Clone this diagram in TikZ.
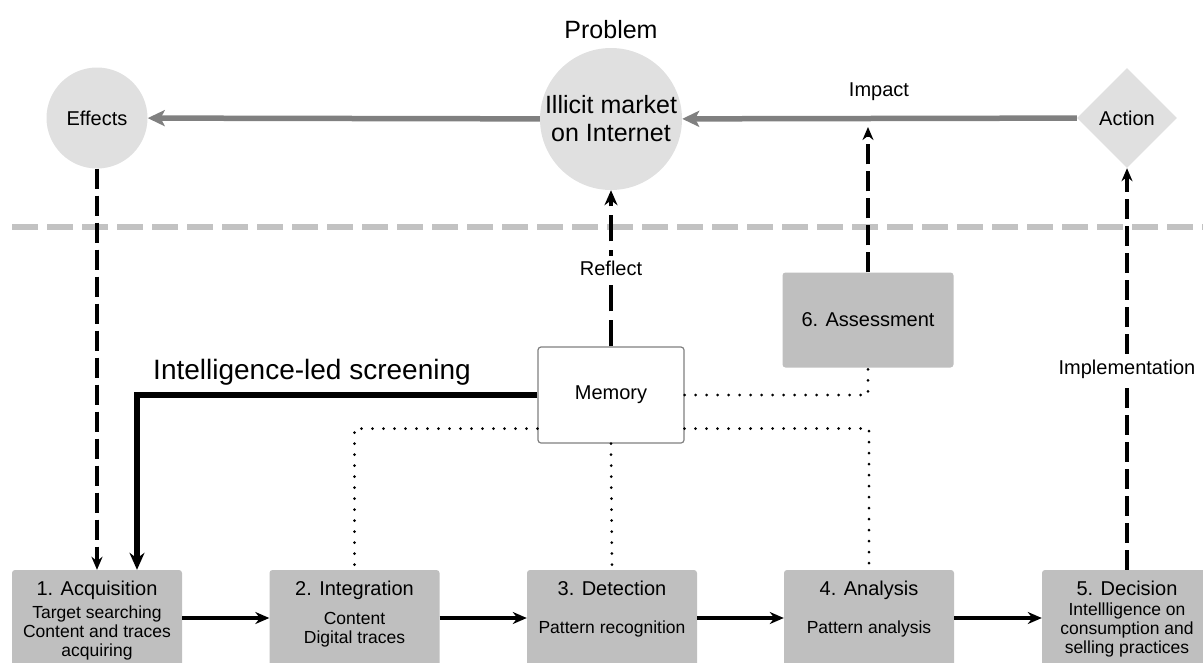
\documentclass[tikz,border=0pt]{standalone}
\usepackage{fontspec}
\setmainfont{Liberation Sans}
\usetikzlibrary{positioning, arrows.meta, calc, shapes.geometric}

\definecolor{boxgray}{gray}{0.75}
\definecolor{discgray}{gray}{0.88}
\definecolor{arrowgray}{gray}{0.5}
\definecolor{sepgray}{gray}{0.76}
\definecolor{memgray}{gray}{0.5}

\begin{document}
\begin{tikzpicture}[
  x=1pt, y=-1pt,
  stage/.style={fill=boxgray, rounded corners=3pt, minimum width=170pt,
                minimum height=96pt, inner sep=0pt},
  ttl/.style={font=\fontsize{20}{24}\selectfont, inner sep=0pt, anchor=base},
  sub/.style={font=\fontsize{17.5}{19}\selectfont, align=center, inner sep=0pt},
  disc/.style={circle, fill=discgray, inner sep=0pt, align=center},
  lbl/.style={font=\fontsize{20}{24}\selectfont},
  flow/.style={-{Stealth[length=14pt, width=12pt]}, line width=3.5pt},
  feed/.style={-{Stealth[length=17pt, width=16pt, inset=4pt]}, line width=5.5pt, arrowgray},
  dashlink/.style={-{Stealth[length=13pt, width=11pt]}, line width=3.2pt,
                   dash pattern=on 20pt off 7pt},
  reflectlink/.style={-{Stealth[length=15pt, width=13pt]}, line width=4.5pt,
                   dash pattern=on 26pt off 9pt},
  screen/.style={-{Stealth[length=17pt, width=15pt]}, line width=6pt},
  dotlink/.style={line width=3pt, dash pattern=on 0pt off 11pt, line cap=round},
  sepline/.style={line width=5.5pt, sepgray, dash pattern=on 26pt off 9pt},
]
\useasboundingbox (0,0) rectangle (1203,662);

% Separator between problem and process
\draw[sepline] (12,227) -- (1203,227);

% Problem level
\node[lbl, font=\fontsize{25}{28}\selectfont] (prob) at (611,30) {Problem};
\node[disc, minimum size=142pt, font=\fontsize{25}{28}\selectfont]
  (market) at (611,119) {Illicit market\\on Internet};
\node[disc, minimum size=101pt, lbl] (effects) at (97,118) {Effects};
\node[diamond, aspect=1, fill=discgray, minimum size=100pt, inner sep=0pt, lbl]
  (action) at (1127,118) {Action};
\node[lbl] (impactL) at (879,92) {Impact};

% Process boxes
\node[stage] (acq)    at (97,618)    {};
\node[stage] (integ)  at (354.5,618) {};
\node[stage] (detect) at (612,618)   {};
\node[stage] (ana)    at (869,618)   {};
\node[stage] (dec)    at (1127,618)  {};

\node[ttl] (acqT)    at (97,595)    {1. Acquisition};
\node[ttl] (integT)  at (354.5,595) {2. Integration};
\node[ttl] (detectT) at (612,595)   {3. Detection};
\node[ttl] (anaT)    at (869,595)   {4. Analysis};
\node[ttl] (decT)    at (1127,595)  {5. Decision};

\node[sub] (acqS)    at (97,633)    {Target searching\\Content and traces\\acquiring};
\node[sub] (integS)  at (354.5,630) {Content\\Digital traces};
\node[sub] (detectS) at (612,629)   {Pattern recognition};
\node[sub] (anaS)    at (869,629)   {Pattern analysis};
\node[sub] (decS)    at (1127,630)  {Intellligence on\\consumption and\\selling practices};

% Memory and assessment
\node[draw=memgray, line width=1.2pt, fill=white, rounded corners=3pt,
      minimum width=146pt, minimum height=96pt, lbl] (memory) at (611,395) {Memory};
\node[stage, minimum width=171pt, minimum height=95pt, lbl] (assess) at (868,320)
  {6. Assessment};
\node[lbl, font=\fontsize{28}{32}\selectfont] (screenL) at (312,372)
  {Intelligence-led screening};

% Gray feedback arrows
\draw[feed] (action) -- (market);
\draw[feed] (market) -- (effects);

% Flow between boxes
\draw[flow] (acq) -- (integ);
\draw[flow] (integ) -- (detect);
\draw[flow] (detect) -- (ana);
\draw[flow] (ana) -- (dec);

% Dotted links to memory
\draw[dotlink] (memory.east) -| (assess.south);
\draw[dotlink] ($(memory.south east)+(0,-15)$) -| (ana.north);
\draw[dotlink] ($(memory.south west)+(0,-15)$) -| (integ.north);
\draw[dotlink] (memory.south) -- (detect.north);

% Dashed links
\draw[dashlink] (effects) -- (effects |- acq.north);
\draw[reflectlink] (memory) -- node[lbl, fill=white, inner sep=5pt] (reflectL) {Reflect} (market);
\coordinate (impactTip) at (868,127);
\draw[dashlink] (assess) -- (impactTip);
\draw[dashlink] (dec) -- node[lbl, fill=white, inner sep=4pt] (implL) {Implementation} (action);

% Screening
\draw[screen] (memory.west) -| ($(acq.north)+(40,0)$);
\end{tikzpicture}
\end{document}
